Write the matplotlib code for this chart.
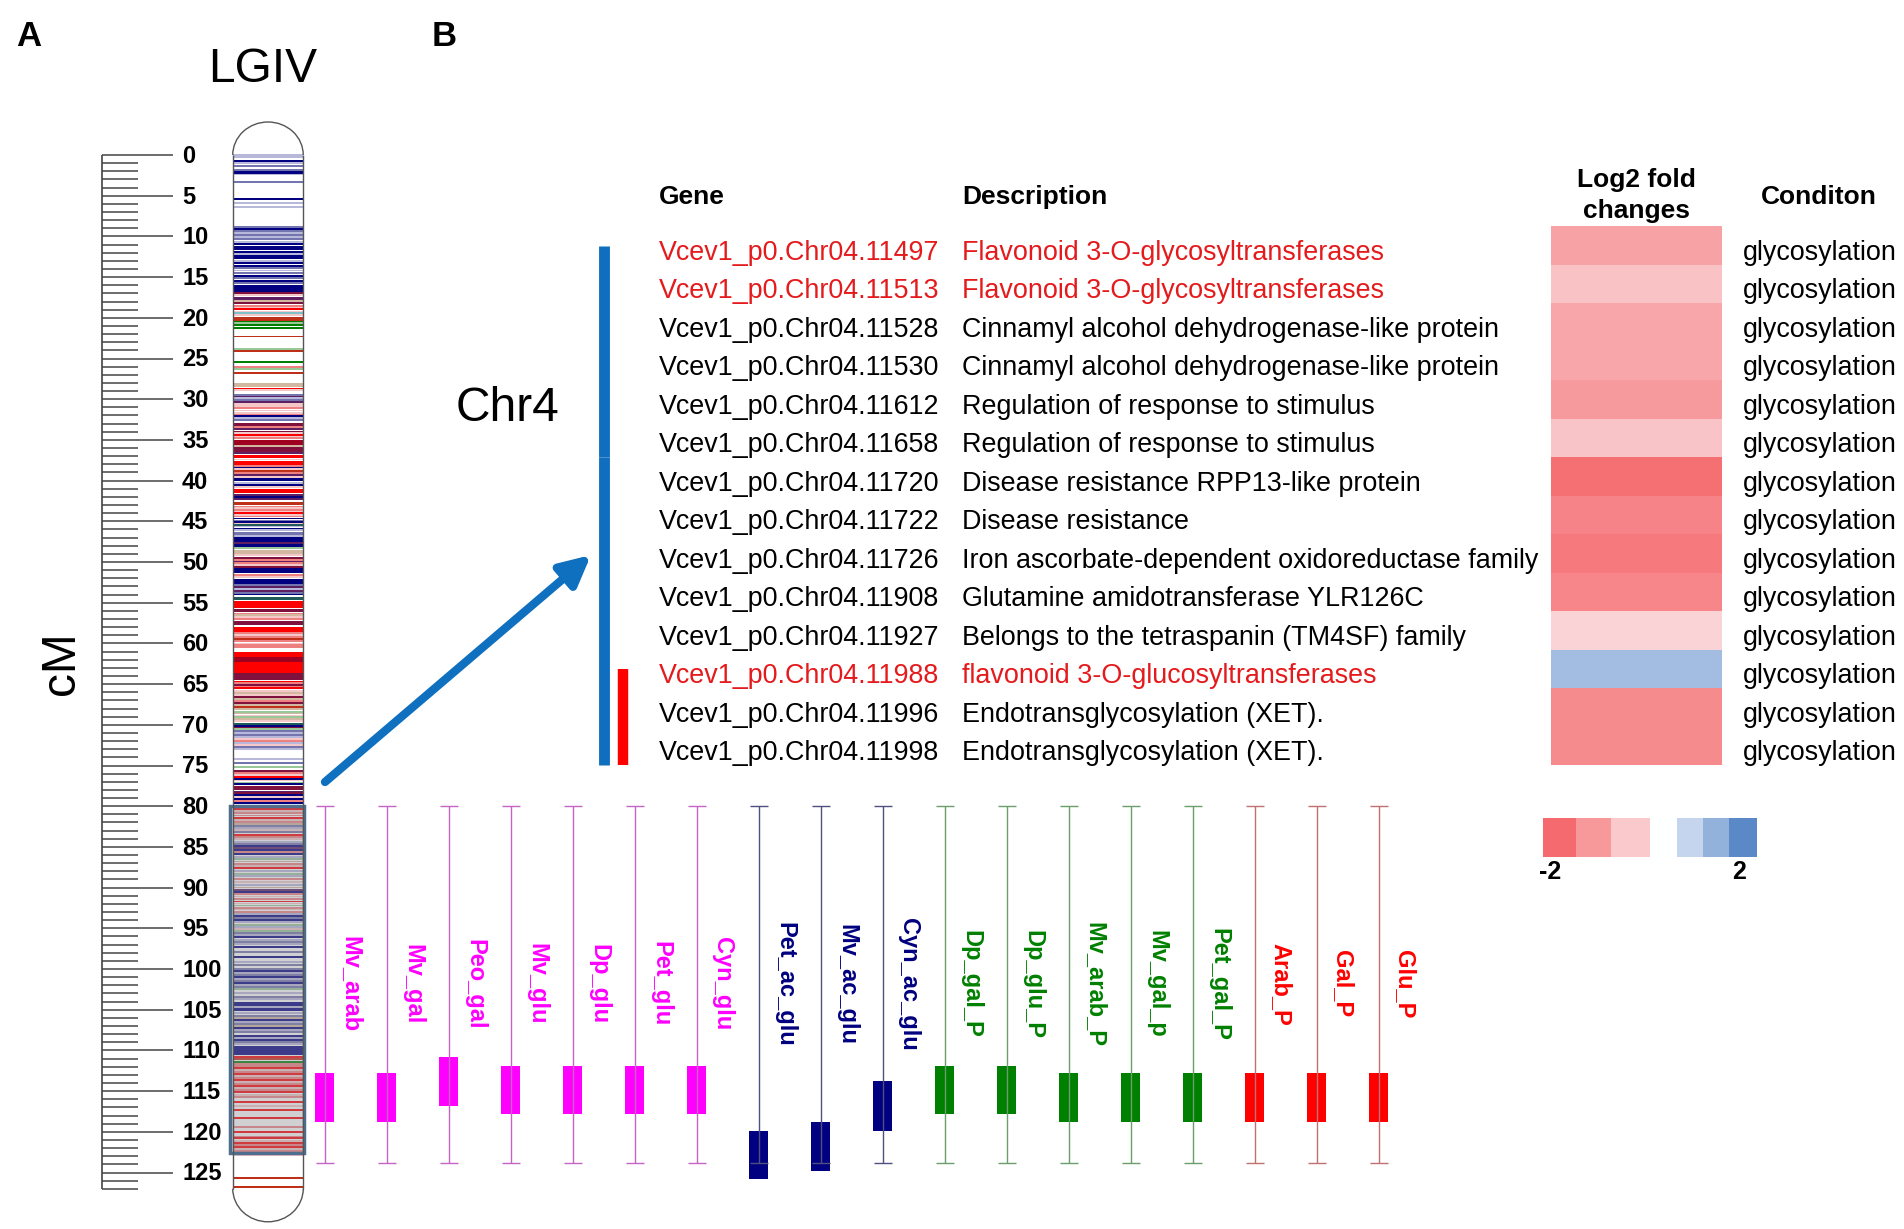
import matplotlib
matplotlib.use("Agg")
import matplotlib.pyplot as plt
from matplotlib.patches import Rectangle, Arc
from matplotlib.colors import LinearSegmentedColormap, Normalize
import numpy as np

W, H = 1904, 1229
plt.rcParams["font.family"] = ["Liberation Sans", "DejaVu Sans"]

# ---------------- data: linkage group LGIV ----------------
chrom_len = 127
ruler_ticks = list(range(0, 128))
ruler_labels = list(range(0, 126, 5))
qtl_region = (80, 122.6)

band_colors = {
    "N": "#000080", "n": "#7474AE", "l": "#B8B8DA", "R": "#FF0000",
    "r": "#EE8080", "p": "#F4C8C8", "M": "#80103C", "U": "#5E1E62",
    "G": "#008000", "g": "#98C898", "T": "#D2B8A0", "O": "#C03018",
    "K": "#205A5A", "c": "#80C0C8", "d": "#A00020",
}

band_blocks = [
    (1.76, 1.92, "n"), (1.92, 2.33, "N"), (2.33, 2.5, "l"),
    (15.97, 16.79, "N"), (17.4, 17.8, "U"), (18.0, 18.3, "M"),
    (19.86, 20.35, "O"), (21.17, 21.37, "G"), (25.27, 25.5, "G"),
    (28.05, 28.54, "T"), (32.97, 33.37, "M"), (35.0, 35.6, "d"),
    (35.9, 36.45, "M"), (36.85, 37.26, "R"), (37.55, 38.1, "R"),
    (41.08, 41.5, "R"), (41.65, 41.98, "U"), (42.6, 43.0, "O"),
    (46.28, 46.7, "n"), (46.97, 47.5, "N"), (47.5, 47.8, "U"), (47.8, 48.1, "N"),
    (48.53, 49.02, "T"), (50.78, 51.4, "N"), (52.09, 52.7, "N"),
    (54.26, 54.67, "K"), (54.83, 55.65, "R"), (55.74, 56.1, "M"),
    (56.3, 57.13, "r"), (57.21, 57.78, "M"), (57.95, 58.56, "R"),
    (61.02, 61.63, "R"), (61.63, 62.25, "d"), (62.25, 63.68, "R"),
    (63.68, 64.5, "M"), (104.09, 104.5, "N"), (104.83, 105.16, "N"),
    (109.42, 110.56, "N"), (111.3, 111.55, "G"),
]

band_lines = [
    (0.0, "l"), (0.29, "l"), (0.7, "N"), (1.02, "l"), (1.35, "n"), (3.28, "n"),
    (5.45, "N"), (5.94, "l"), (6.35, "l"),
    (8.89, "n"), (9.13, "N"), (9.38, "n"), (9.62, "l"), (9.87, "n"), (10.1, "l"),
    (10.36, "n"), (10.65, "l"), (10.93, "N"), (11.26, "N"), (11.5, "N"),
    (11.88, "N"), (12.16, "l"), (12.4, "N"), (12.7, "N"), (12.98, "l"), (13.3, "N"),
    (13.64, "N"), (13.9, "n"), (14.2, "l"), (14.5, "n"), (14.86, "N"), (15.15, "n"),
    (15.44, "N"), (15.68, "n"),
    (17.0, "M"), (17.2, "p"), (17.9, "T"), (18.55, "r"), (18.75, "p"), (18.96, "R"),
    (19.25, "p"), (19.45, "c"), (19.65, "p"),
    (20.48, "G"), (20.68, "g"), (20.9, "G"),
    (22.3, "O"), (23.83, "g"), (24.04, "O"), (26.0, "r"), (26.33, "g"), (26.74, "O"),
    (28.7, "R"), (28.87, "p"),
    (29.48, "n"), (29.7, "U"), (29.9, "l"), (30.1, "n"), (30.35, "U"), (30.6, "p"),
    (30.85, "p"), (31.1, "r"), (31.4, "p"), (31.65, "p"), (31.9, "r"), (32.1, "N"),
    (32.35, "l"), (32.55, "n"),
    (33.46, "r"), (33.7, "U"), (34.0, "M"), (34.2, "p"), (34.4, "R"), (34.6, "p"),
    (34.8, "r"), (35.75, "T"), (36.6, "U"),
    (37.4, "p"), (38.2, "r"), (38.4, "N"), (38.6, "p"), (38.8, "O"), (39.05, "r"),
    (39.3, "U"), (39.55, "p"), (39.8, "N"),
    (39.93, "N"), (40.25, "l"), (40.5, "N"), (40.75, "p"), (42.06, "N"), (42.3, "U"),
    (43.2, "r"), (43.4, "p"), (43.6, "r"), (43.85, "p"), (44.0, "R"), (44.2, "p"),
    (44.4, "r"), (44.65, "N"), (44.9, "n"), (45.1, "N"), (45.35, "p"), (45.5, "K"),
    (45.65, "l"), (45.9, "N"), (46.07, "l"), (46.82, "l"),
    (48.3, "g"), (49.14, "p"),
    (49.55, "M"), (49.76, "r"), (49.96, "U"), (50.17, "r"), (50.37, "p"), (50.58, "M"),
    (51.6, "r"), (51.8, "p"),
    (52.87, "n"), (53.03, "U"), (53.28, "l"), (53.52, "U"), (53.77, "n"), (54.0, "N"),
    (56.5, "T"), (56.8, "p"),
    (58.77, "r"), (59.0, "p"), (59.26, "r"), (59.5, "O"), (59.75, "r"), (60.0, "p"),
    (60.24, "r"), (60.45, "r"),
    (64.7, "R"), (64.9, "r"), (65.1, "M"), (65.3, "r"), (65.5, "R"),
    (65.8, "p"), (66.05, "T"), (66.35, "p"), (66.63, "M"), (66.87, "T"), (67.1, "r"),
    (67.37, "M"), (67.6, "T"), (67.86, "O"), (68.1, "T"),
    (68.39, "g"), (68.6, "T"), (68.85, "p"), (69.08, "g"), (69.3, "T"), (69.55, "p"),
    (69.9, "K"), (70.15, "N"), (70.32, "M"),
    (70.56, "g"), (70.8, "n"), (71.05, "l"), (71.25, "n"), (71.46, "l"), (71.7, "p"),
    (71.95, "r"), (72.2, "l"), (72.5, "p"), (72.77, "n"), (73.0, "l"),
    (74.25, "l"), (74.66, "n"), (75.2, "g"),
    (75.64, "M"), (75.9, "r"), (76.12, "p"), (76.37, "R"),
    (76.62, "N"), (76.85, "p"), (77.1, "g"), (77.28, "N"),
    (77.6, "M"), (77.85, "M"), (78.2, "U"), (78.4, "M"),
    (78.67, "N"), (78.9, "p"), (79.16, "N"), (79.35, "r"), (79.57, "N"),
    (80.05, "r"), (80.34, "R"), (80.6, "p"), (80.87, "r"), (81.15, "r"), (81.49, "R"),
    (81.72, "p"), (81.98, "r"), (82.2, "T"),
    (82.47, "n"), (82.72, "l"), (82.96, "p"), (83.2, "n"),
    (83.5, "R"), (83.78, "r"), (84.03, "p"),
    (84.35, "l"), (84.68, "n"), (84.93, "N"), (85.17, "U"), (85.4, "N"), (85.66, "r"),
    (85.9, "N"), (86.2, "l"),
    (86.5, "g"), (86.8, "T"), (87.06, "r"), (87.38, "p"), (87.63, "R"), (87.96, "l"),
    (88.3, "g"), (88.6, "l"), (88.94, "r"), (89.27, "p"), (89.68, "l"), (90.0, "T"),
    (90.33, "U"), (90.58, "N"), (90.82, "r"), (91.1, "p"), (91.4, "r"), (91.7, "R"),
    (91.95, "p"),
    (92.2, "g"), (92.46, "r"), (92.7, "p"), (92.95, "r"), (93.2, "l"),
    (93.53, "N"), (93.77, "n"), (94.02, "N"), (94.26, "l"),
    (94.6, "g"), (94.85, "l"), (95.08, "p"), (95.33, "g"),
    (95.57, "n"), (95.8, "l"), (96.07, "N"), (96.4, "l"), (96.64, "n"), (96.9, "l"),
    (97.25, "N"), (97.87, "n"), (98.48, "N"), (99.1, "l"), (99.5, "n"),
    (100.0, "n"), (100.24, "N"), (100.49, "l"), (100.73, "n"), (100.98, "N"),
    (101.22, "l"), (101.47, "n"), (101.72, "N"), (101.96, "l"), (102.2, "n"), (102.45, "g"),
    (102.99, "l"), (103.4, "n"), (103.7, "l"), (104.65, "l"),
    (105.44, "l"), (105.73, "n"), (105.98, "T"), (106.26, "N"), (106.55, "l"),
    (106.8, "n"), (107.04, "T"), (107.29, "N"), (107.53, "l"), (107.78, "n"),
    (108.19, "N"), (108.44, "l"), (108.68, "N"), (108.93, "n"), (109.17, "l"),
    (110.8, "R"), (111.05, "O"), (111.7, "r"),
    (111.95, "r"), (112.2, "R"), (112.45, "p"), (112.69, "r"), (112.94, "R"),
    (113.18, "p"), (113.43, "r"), (113.67, "R"), (113.92, "p"), (114.17, "r"),
    (114.4, "R"), (114.65, "p"), (114.9, "r"), (115.15, "R"), (115.47, "p"), (115.72, "r"),
    (116.38, "R"), (116.8, "p"), (117.32, "R"), (118.34, "R"), (119.37, "r"), (119.98, "R"),
    (120.6, "r"), (120.8, "R"), (121.1, "p"), (121.4, "R"), (121.6, "r"), (121.86, "R"),
    (122.1, "p"), (122.4, "r"),
    (122.9, "p"), (125.7, "O"), (126.8, "O"),
]

# ---------------- data: QTL intervals ----------------
qtl_names = ["Mv_arab", "Mv_gal", "Peo_gal", "Mv_glu", "Dp_glu", "Pet_glu", "Cyn_glu",
             "Pet_ac_glu", "Mv_ac_glu", "Cyn_ac_glu",
             "Dp_gal_P", "Dp_glu_P", "Mv_arab_P", "Mv_gal_p", "Pet_gal_P",
             "Arab_P", "Gal_P", "Glu_P"]
qtl_group = ["mag"] * 7 + ["navy"] * 3 + ["green"] * 5 + ["red"] * 3
qtl_start = [112.8, 112.8, 110.8, 111.9, 111.9, 111.9, 111.9,
             119.9, 118.8, 113.8,
             111.9, 111.9, 112.8, 112.8, 112.8,
             112.8, 112.8, 112.8]
qtl_end = [118.8, 118.8, 116.8, 117.8, 117.8, 117.8, 117.8,
           125.8, 124.8, 119.9,
           117.8, 117.8, 118.8, 118.8, 118.8,
           118.8, 118.8, 118.8]
qtl_support = (80, 123.8)
group_color = {"mag": "#FF00FF", "navy": "#000080", "green": "#008000", "red": "#FF0000"}
group_whisker = {"mag": "#C464C4", "navy": "#505080", "green": "#6A9E6A", "red": "#C07070"}

# ---------------- data: candidate genes ----------------
genes = ["11497", "11513", "11528", "11530", "11612", "11658", "11720",
         "11722", "11726", "11908", "11927", "11988", "11996", "11998"]
descriptions = [
    "Flavonoid 3-O-glycosyltransferases",
    "Flavonoid 3-O-glycosyltransferases",
    "Cinnamyl alcohol dehydrogenase-like protein",
    "Cinnamyl alcohol dehydrogenase-like protein",
    "Regulation of response to stimulus",
    "Regulation of response to stimulus",
    "Disease resistance RPP13-like protein",
    "Disease resistance",
    "Iron ascorbate-dependent oxidoreductase family",
    "Glutamine amidotransferase YLR126C",
    "Belongs to the tetraspanin (TM4SF) family",
    "flavonoid 3-O-glucosyltransferases",
    "Endotransglycosylation (XET).",
    "Endotransglycosylation (XET).",
]
highlight_rows = [0, 1, 11]
condition = ["glycosylation"] * 14
log2fc = [-1.19, -0.74, -1.15, -1.15, -1.32, -0.73, -1.91,
          -1.63, -1.77, -1.60, -0.54, 1.11, -1.53, -1.53]
blue_brackets = [(0.0, 5.5), (5.5, 13.5)]
red_brackets = [(11.0, 13.5)]
legend_values = [-2, -1.33, -0.67, 0, 0.67, 1.33, 2]

cmap = LinearSegmentedColormap.from_list(
    "fc", [(0.0, "#F56A6E"), (1 / 6, "#F7999C"), (2 / 6, "#F9C9CC"), (0.5, "#FFFFFF"),
           (4 / 6, "#C5D5EE"), (5 / 6, "#93B1DB"), (1.0, "#5B88C7")])
norm = Normalize(-2, 2)


def cm_of(py):
    return (py - 155) / 8.14


def row_of(py):
    return (py - 245.5) / 38.5


fig = plt.figure(figsize=(W / 100, H / 100), dpi=100)

# ---------- panel A: map ----------
ax = fig.add_axes([0, 0, 1, 1])
ax.set_xlim(0, W)
ax.set_ylim(cm_of(H), cm_of(0))
ax.axis("off")

ax.vlines(102, 0, chrom_len, color="#444444", lw=1.2)
for t in ruler_ticks:
    ax.hlines(t, 102, 173 if t % 5 == 0 else 138, color="#444444", lw=1.1)
for t in ruler_labels:
    ax.text(182, t + 0.98, str(t), ha="left", va="baseline", fontsize=17, fontweight="bold")

cx0, cx1 = 233, 303
for s, e, k in band_blocks:
    ax.add_patch(Rectangle((cx0, s), cx1 - cx0, e - s, facecolor=band_colors[k], lw=0))
for c, k in band_lines:
    ax.add_patch(Rectangle((cx0, c - 0.11), cx1 - cx0, 0.22, facecolor=band_colors[k], lw=0))

ax.vlines([cx0 - 0.5, cx1], 0, chrom_len, color="#555555", lw=1)
cap_h = 2 * 33 / 8.14
ax.add_patch(Arc(((cx0 + cx1) / 2, 0), cx1 - cx0 + 0.5, cap_h, theta1=180, theta2=360,
                 color="#555555", lw=1))
ax.add_patch(Arc(((cx0 + cx1) / 2, chrom_len), cx1 - cx0 + 0.5, cap_h, theta1=0, theta2=180,
                 color="#555555", lw=1))

ax.add_patch(Rectangle((230, qtl_region[0]), 74, qtl_region[1] - qtl_region[0],
                       facecolor="#8F8F98", alpha=0.42, lw=0))
ax.add_patch(Rectangle((230, qtl_region[0]), 74, qtl_region[1] - qtl_region[0],
                       fill=False, edgecolor="#4F6E8E", lw=2.5))

for i, name in enumerate(qtl_names):
    x = 324.5 + 62 * i
    g = qtl_group[i]
    ax.vlines(x, qtl_support[0], qtl_support[1], color=group_whisker[g], lw=1)
    ax.hlines(list(qtl_support), x - 9, x + 9, color=group_whisker[g], lw=1)
    ax.add_patch(Rectangle((x - 9.5, qtl_start[i]), 19, qtl_end[i] - qtl_start[i],
                           facecolor=group_color[g], lw=0))
    ax.text(x + 26, cm_of(984), name, rotation=-90, ha="center", va="center",
            fontsize=17, fontweight="bold", color=group_color[g])

ax.annotate("", xy=(591, cm_of(555)), xytext=(325, cm_of(782)),
            arrowprops=dict(arrowstyle="-|>", color="#1070C0", lw=6,
                            mutation_scale=45, shrinkA=0, shrinkB=0))

# ---------- panel B: gene table ----------
axt = fig.add_axes([0, 0, 1, 1])
axt.set_xlim(0, W)
axt.set_ylim(row_of(H), row_of(0))
axt.axis("off")

rows = np.arange(len(genes))
axt.pcolormesh([1551, 1722], np.arange(-0.5, len(genes)), np.array(log2fc)[:, None],
               cmap=cmap, norm=norm, shading="flat")

for s, e in blue_brackets:
    axt.vlines(604, s, e, color="#0F6EBE", lw=7.8, capstyle="butt")
for s, e in red_brackets:
    axt.vlines(623, s, e, color="#FF0000", lw=7.5, capstyle="butt")

off = 0.366
for i in rows:
    col = "#E41A1C" if i in highlight_rows else "black"
    axt.text(659, i + off, "Vcev1_p0.Chr04." + genes[i], fontsize=19.4, color=col, va="baseline")
    axt.text(962, i + off, descriptions[i], fontsize=19.4, color=col, va="baseline")
    axt.text(1743, i + off, condition[i], fontsize=19.4, va="baseline")

hb = row_of(204)
axt.text(659, hb, "Gene", fontsize=19, fontweight="bold", va="baseline")
axt.text(962, hb, "Description", fontsize=19, fontweight="bold", va="baseline")
axt.text(1636, row_of(187), "Log2 fold", fontsize=19, fontweight="bold", va="baseline", ha="center")
axt.text(1636, row_of(218), "changes", fontsize=19, fontweight="bold", va="baseline", ha="center")
axt.text(1761, hb, "Conditon", fontsize=19, fontweight="bold", va="baseline")

leg_edges = [1543, 1576, 1611, 1650, 1677, 1703, 1729, 1757]
axt.pcolormesh(leg_edges, [row_of(818), row_of(857)], np.array(legend_values)[None, :],
               cmap=cmap, norm=norm, shading="flat")
axt.text(1550, row_of(872), "-2", fontsize=18, fontweight="bold", ha="center", va="center")
axt.text(1739, row_of(872), "2", fontsize=18, fontweight="bold", ha="center", va="center")

# ---------- titles ----------
fig.text(16 / W, 1 - 46 / H, "A", fontsize=25, fontweight="bold", va="baseline")
fig.text(432 / W, 1 - 46 / H, "B", fontsize=25, fontweight="bold", va="baseline")
fig.text(263 / W, 1 - 82 / H, "LGIV", fontsize=34.5, ha="center", va="baseline")
fig.text(456 / W, 1 - 421 / H, "Chr4", fontsize=34.5, ha="left", va="baseline")
fig.text(62 / W, 1 - 663 / H, "cM", fontsize=34.5, rotation=90, ha="center", va="center")

fig.savefig("out.png", dpi=100)
